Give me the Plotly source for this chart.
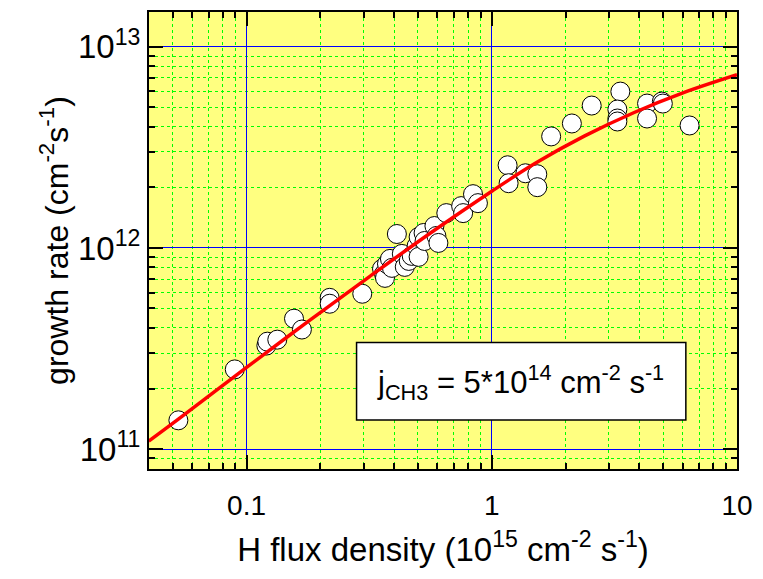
import plotly.graph_objects as go

# measured data: H flux density (1e15 cm^-2 s^-1) vs growth rate (cm^-2 s^-1)
h_flux = [0.0527, 0.0895, 0.1204, 0.1215, 0.1334, 0.1561, 0.1681, 0.2182, 0.2182,
          0.2963, 0.3567, 0.3634, 0.3668, 0.3737, 0.3843, 0.3915, 0.4101, 0.4296,
          0.4417, 0.4584, 0.4714, 0.4937, 0.5030, 0.5030, 0.5270, 0.5319, 0.5835,
          0.5944, 0.6057, 0.6524, 0.7499, 0.7640, 0.8383, 0.8779, 1.160, 1.171,
          1.371, 1.533, 1.533, 1.746, 2.121, 2.555, 3.344, 3.252, 3.252, 3.252,
          4.297, 4.297, 4.937, 4.984, 6.405]
growth = [1.39e11, 2.49e11, 3.27e11, 3.42e11, 3.50e11, 4.45e11, 3.93e11, 5.65e11, 5.28e11,
          5.92e11, 7.87e11, 7.43e11, 7.10e11, 8.33e11, 8.82e11, 7.96e11, 1.173e12, 9.34e11,
          8.05e11, 8.62e11, 9.13e11, 1.023e12, 1.134e12, 9.03e11, 1.187e12, 1.083e12, 1.285e12,
          1.147e12, 1.059e12, 1.490e12, 1.614e12, 1.490e12, 1.851e12, 1.670e12, 2.576e12, 2.098e12,
          2.351e12, 2.325e12, 2.005e12, 3.585e12, 4.157e12, 5.104e12, 5.988e12, 4.877e12, 4.401e12, 4.253e12,
          5.222e12, 4.401e12, 5.342e12, 5.222e12, 4.063e12]

# fitted model curve
fit_x = [0.0399, 0.0527, 0.1, 0.1778, 0.3162, 0.5623, 1.0, 1.504, 2.393, 3.808, 6.057, 10.0]
fit_y = [1.095e11, 1.408e11, 2.546e11, 4.302e11, 7.185e11, 1.187e12, 1.915e12, 2.635e12,
         3.605e12, 4.714e12, 5.920e12, 7.268e12]

x_tickvals = [0.1, 1, 10]
x_ticktext = ["0.1", "1", "10"]
y_tickvals = [1e11, 1e12, 1e13]
y_ticktext = ["10<sup>11</sup>", "10<sup>12</sup>", "10<sup>13</sup>"]

FONT = "Liberation Sans, Arial, sans-serif"

fig = go.Figure()
fig.add_trace(go.Scatter(
    x=h_flux, y=growth, mode="markers",
    marker=dict(size=19, color="white", line=dict(color="black", width=1)),
    showlegend=False, hoverinfo="x+y"))
fig.add_trace(go.Scatter(
    x=fit_x, y=fit_y, mode="lines",
    line=dict(color="#FF0000", width=3.5, shape="spline", smoothing=1),
    showlegend=False))

axis_common = dict(
    type="log",
    showline=True, linecolor="black", linewidth=2, mirror="allticks",
    ticks="inside", ticklen=14, tickwidth=1.5, tickcolor="black",
    showgrid=True, gridcolor="#0000FF", gridwidth=1,
    zeroline=False,
    minor=dict(dtick="D1", ticks="inside", ticklen=6, tickwidth=1.5, tickcolor="black",
               showgrid=True, gridcolor="#00FF00", griddash="dot", gridwidth=1),
)

fig.update_xaxes(
    **axis_common,
    range=[-1.398, 1.0],
    dtick=1,
    tickvals=x_tickvals, ticktext=x_ticktext,
    tickfont=dict(family=FONT, size=28, color="black"),
    ticklabelstandoff=10,
    title=dict(text="H flux density (10<sup>15</sup> cm<sup>-2</sup> s<sup>-1</sup>)",
               font=dict(family=FONT, size=33, color="black"), standoff=18),
)
fig.update_yaxes(
    **axis_common,
    range=[10.901, 13.173],
    dtick=1,
    tickvals=y_tickvals, ticktext=y_ticktext,
    tickfont=dict(family=FONT, size=33, color="black"),
    title=dict(text="growth rate (cm<sup>-2</sup>s<sup>-1</sup>)",
               font=dict(family=FONT, size=32, color="black"), standoff=0),
)

# annotation box
fig.add_shape(type="rect", xref="x domain", yref="y domain",
              x0=0.353, x1=0.913, y0=0.107, y1=0.277,
              line=dict(color="black", width=1.5), fillcolor="white", layer="above")
fig.add_annotation(xref="x domain", yref="y domain", x=0.632, y=0.19, yanchor="middle",
                   text="j<sub>CH3</sub> = 5*10<sup>14</sup> cm<sup>-2</sup> s<sup>-1</sup>",
                   showarrow=False, font=dict(family=FONT, size=31, color="black"))

fig.update_layout(
    width=763, height=579,
    margin=dict(l=149, r=19, t=10, b=110),
    plot_bgcolor="#FFFF80", paper_bgcolor="white",
    font=dict(family=FONT, color="black"),
)

fig.write_html("out.html")
